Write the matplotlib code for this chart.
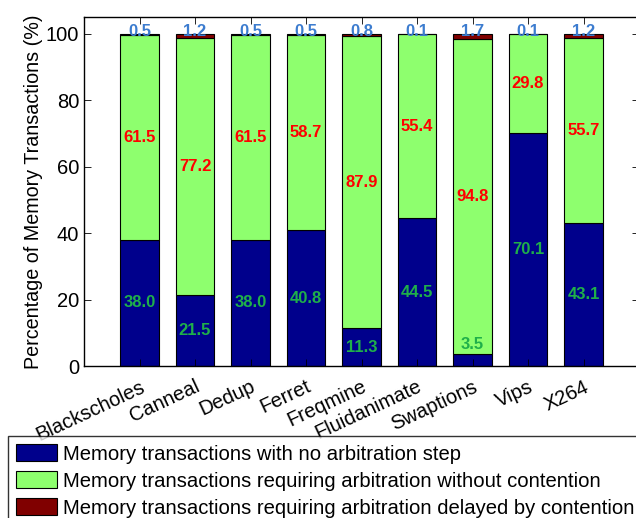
import matplotlib
matplotlib.use("Agg")
import matplotlib.pyplot as plt
import numpy as np

plt.rcParams["font.family"] = ["Liberation Sans", "DejaVu Sans"]

BENCHMARKS = ["Blackscholes", "Canneal", "Dedup", "Ferret", "Freqmine",
              "Fluidanimate", "Swaptions", "Vips", "X264"]
NO_ARB = [38.0, 21.5, 38.0, 40.8, 11.3, 44.5, 3.5, 70.1, 43.1]
ARB_FREE = [61.5, 77.2, 61.5, 58.7, 87.9, 55.4, 94.8, 29.8, 55.7]
ARB_DELAYED = [0.5, 1.2, 0.5, 0.5, 0.8, 0.1, 1.7, 0.1, 1.2]

LEGEND = [
    "Memory transactions with no arbitration step",
    "Memory transactions requiring arbitration without contention",
    "Memory transactions requiring arbitration delayed by contention",
]
COLORS = ["#00008C", "#8EFF6E", "#800000"]

no_arb = np.array(NO_ARB)
arb_free = np.array(ARB_FREE)
arb_del = np.array(ARB_DELAYED)
x = np.arange(len(BENCHMARKS))
w = 0.7

fig = plt.figure(figsize=(6.36, 5.18), dpi=100)
ax = fig.add_axes([84 / 636, 1 - 366 / 518, 555 / 636, 349 / 518])

ax.bar(x, no_arb, w, color=COLORS[0], edgecolor="black", linewidth=0.8, label=LEGEND[0])
ax.bar(x, arb_free, w, bottom=no_arb, color=COLORS[1], edgecolor="black",
       linewidth=0.8, label=LEGEND[1])
ax.bar(x, arb_del, w, bottom=no_arb + arb_free, color=COLORS[2], edgecolor="black",
       linewidth=0.8, label=LEGEND[2])

# value labels for each segment
lab_kw = dict(ha="center", va="center", fontsize=12, fontweight="bold")
for i in x:
    yb = no_arb[i] / 2 if no_arb[i] > 8 else no_arb[i] + 3
    ax.text(i, yb, f"{no_arb[i]:.1f}", color="#1FAF4A", **lab_kw)
    ax.text(i, no_arb[i] + arb_free[i] / 2, f"{arb_free[i]:.1f}", color="#FF0000", **lab_kw)
    ax.text(i, 100.6, f"{arb_del[i]:.1f}", color="#3C7CCF", **lab_kw)

ax.set_xlim(-1, 9)
ax.set_ylim(0, 105)
ax.set_yticks([0, 20, 40, 60, 80, 100])
ax.set_xticks(x)
ax.set_xticklabels(BENCHMARKS, rotation=25, ha="right", rotation_mode="anchor")
ax.tick_params(direction="in", top=True, right=True, length=5, labelsize=14.5, width=0.6)
ax.tick_params(axis="x", pad=8)
ax.set_ylabel("Percentage of Memory Transactions (%)", fontsize=14.2, labelpad=2)
for s in ax.spines.values():
    s.set_linewidth(1.0)

leg = fig.legend(loc="upper left", bbox_to_anchor=(8 / 636, 1 - 436 / 518),
                 fontsize=14.6, frameon=True, fancybox=False, edgecolor="black",
                 handlelength=2.0, handleheight=0.9, handletextpad=0.3,
                 labelspacing=0.38, borderpad=0.4, borderaxespad=0)
leg.get_frame().set_linewidth(1.0)

fig.savefig("out.png", dpi=100)
